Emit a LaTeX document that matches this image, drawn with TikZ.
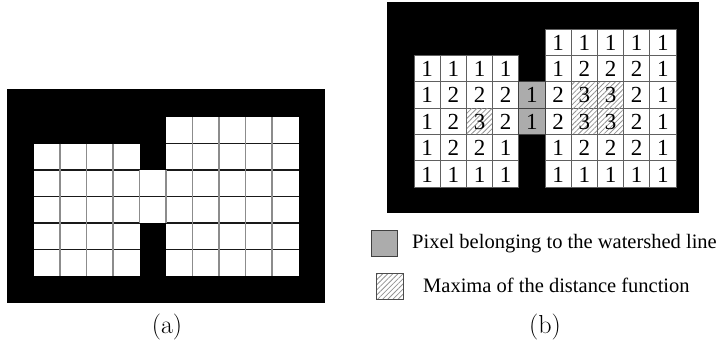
\documentclass[tikz,border=0pt]{standalone}
\usepackage{fontspec}
\newfontfamily\timesfont{Liberation Serif}
\usetikzlibrary{patterns.meta}
\tikzset{
  blackbg/.style={fill=black,draw=none},
  vline/.style={draw=gray!90,line width=1.1pt},
  hline/.style={draw=black!90,line width=1.1pt},
  bcell/.style={draw=gray!75!black,line width=0.9pt,fill=white},
  wshed/.style={fill=gray!65,draw=gray!50!black,line width=0.9pt},
  hatch/.style={pattern={Lines[angle=45,distance=3.6pt,line width=0.8pt]},pattern color=gray!85},
  num/.style={font=\timesfont\fontsize{23}{23}\selectfont,inner sep=0pt},
  legtext/.style={font=\timesfont\fontsize{20.5}{20.5}\selectfont,anchor=west,inner sep=0pt},
  caption/.style={font=\fontsize{26}{26}\selectfont,inner sep=0pt},
}
\begin{document}
\begin{tikzpicture}[x=1pt,y=-1pt]
\useasboundingbox (0,0) rectangle (728,351);
% ---------- (a) ----------
\def\ax{33.5}\def\ay{117}\def\ac{26.5}
\fill[blackbg] (7,89) rectangle (325,303);
% white areas
\fill[white] (\ax,{\ay+\ac}) rectangle ({\ax+4*\ac},{\ay+6*\ac});
\fill[white] ({\ax+4*\ac},{\ay+2*\ac}) rectangle ({\ax+5*\ac},{\ay+4*\ac});
\fill[white] ({\ax+5*\ac},\ay) rectangle ({\ax+10*\ac},{\ay+6*\ac});
% horizontal lines (inner)
\foreach \j in {2,...,5} \draw[hline] (\ax,{\ay+\j*\ac}) -- ({\ax+4*\ac},{\ay+\j*\ac});
\draw[hline] ({\ax+4*\ac},{\ay+3*\ac}) -- ({\ax+5*\ac},{\ay+3*\ac});
\foreach \j in {1,...,5} \draw[hline] ({\ax+5*\ac},{\ay+\j*\ac}) -- ({\ax+10*\ac},{\ay+\j*\ac});
% vertical lines (inner)
\foreach \i in {1,...,3} \draw[vline] ({\ax+\i*\ac},{\ay+\ac}) -- ({\ax+\i*\ac},{\ay+6*\ac});
\foreach \i in {4,5} \draw[vline] ({\ax+\i*\ac},{\ay+2*\ac}) -- ({\ax+\i*\ac},{\ay+4*\ac});
\foreach \i in {6,...,9} \draw[vline] ({\ax+\i*\ac},\ay) -- ({\ax+\i*\ac},{\ay+6*\ac});
\node[caption] (capa) at (167,327) {(a)};
% ---------- (b) ----------
\def\bx{414}\def\by{29}\def\bw{26.2}\def\bh{26.35}
\fill[blackbg] (387,2) rectangle (699,213);
% left block: rows 1..5, cols 0..3
\foreach \r/\vals in {1/{1,1,1,1},2/{1,2,2,2},3/{1,2,3,2},4/{1,2,2,1},5/{1,1,1,1}}{
  \foreach \v [count=\c from 0] in \vals {
    \draw[bcell] ({\bx+\c*\bw},{\by+\r*\bh}) rectangle ({\bx+(\c+1)*\bw},{\by+(\r+1)*\bh});
  }
}
% right block: rows 0..5, cols 5..9
\foreach \r/\vals in {0/{1,1,1,1,1},1/{1,2,2,2,1},2/{2,3,3,2,1},3/{2,3,3,2,1},4/{1,2,2,2,1},5/{1,1,1,1,1}}{
  \foreach \v [count=\c from 5] in \vals {
    \draw[bcell] ({\bx+\c*\bw},{\by+\r*\bh}) rectangle ({\bx+(\c+1)*\bw},{\by+(\r+1)*\bh});
  }
}
% hatched maxima
\foreach \c/\r in {2/3,6/2,7/2,6/3,7/3}{
  \fill[hatch] ({\bx+\c*\bw+0.6},{\by+\r*\bh+0.6}) rectangle ({\bx+(\c+1)*\bw-0.6},{\by+(\r+1)*\bh-0.6});
}
% watershed pixels
\foreach \r in {2,3}{
  \draw[wshed] ({\bx+4*\bw},{\by+\r*\bh}) rectangle ({\bx+5*\bw},{\by+(\r+1)*\bh});
}
% numbers
\foreach \r/\vals in {1/{1,1,1,1},2/{1,2,2,2,1},3/{1,2,3,2,1},4/{1,2,2,1},5/{1,1,1,1}}{
  \foreach \v [count=\c from 0] in \vals {
    \node[num] (l\r\c) at ({\bx+(\c+0.5)*\bw},{\by+(\r+0.5)*\bh+0.5}) {\v};
  }
}
\foreach \r/\vals in {0/{1,1,1,1,1},1/{1,2,2,2,1},2/{2,3,3,2,1},3/{2,3,3,2,1},4/{1,2,2,2,1},5/{1,1,1,1,1}}{
  \foreach \v [count=\c from 5] in \vals {
    \node[num] (r\r\c) at ({\bx+(\c+0.5)*\bw},{\by+(\r+0.5)*\bh+0.5}) {\v};
  }
}
% legend
\draw[wshed] (371,230) rectangle (397,256);
\node[legtext] (leg1) at (412,244) {Pixel belonging to the watershed line};
\fill[hatch] (376,273) rectangle (403,299);
\draw[draw=gray!60!black,line width=0.8pt] (376,273) rectangle (403,299);
\node[legtext] (leg2) at (423,285) {Maxima of the distance function};
\node[caption] (capb) at (545,327) {(b)};
\end{tikzpicture}
\end{document}
